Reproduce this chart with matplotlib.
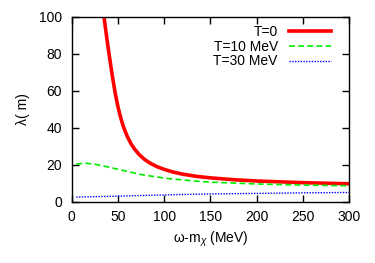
import matplotlib
matplotlib.use("Agg")
import matplotlib.pyplot as plt

plt.rcParams['font.family'] = ['Liberation Sans', 'DejaVu Sans']
plt.rcParams['mathtext.fontset'] = 'custom'
plt.rcParams['mathtext.rm'] = 'Liberation Sans'
plt.rcParams['mathtext.it'] = 'Liberation Sans:italic'

# Data
red_x = [34, 35, 38, 41, 44, 47, 50, 53, 56, 60, 64, 68, 73, 79, 85, 92, 100,
         110, 120, 135, 150, 175, 200, 250, 300]
red_y = [104, 100, 88.5, 78, 68, 59, 51.5, 45.5, 40.5, 35.5, 31.5, 28.5, 25.5,
         22.8, 20.8, 19.0, 17.5, 16.0, 14.9, 13.7, 12.9, 11.9, 11.2, 10.3, 9.7]

green_x = [5, 15, 25, 41, 60, 78, 103, 132, 150, 200, 250, 300]
green_y = [20.4, 20.8, 20.3, 18.6, 16.4, 14.4, 12.6, 11.2, 10.6, 9.6, 9.0, 8.6]

blue_x = [5, 50, 100, 150, 200, 250, 300]
blue_y = [2.5, 3.0, 3.7, 4.2, 4.5, 4.8, 5.0]

labels = ['T=0', 'T=10 MeV', 'T=30 MeV']
xticks = [0, 50, 100, 150, 200, 250, 300]
yticks = [0, 20, 40, 60, 80, 100]

fig = plt.figure(figsize=(3.75, 2.63), dpi=100)
ax = fig.add_axes([0.191, 0.233, 0.740, 0.7035])

ax.plot(red_x, red_y, color='#ff0000', lw=2.6, label=labels[0])
ax.plot(green_x, green_y, color='#00ee00', lw=1.2, dashes=(3.5, 2.0), label=labels[1])
ax.plot(blue_x, blue_y, color='#0000ff', lw=1.0, dashes=(1.0, 1.0), label=labels[2])

ax.set_xlim(0, 300)
ax.set_ylim(0, 100)
ax.set_xticks(xticks)
ax.set_yticks(yticks)
ax.tick_params(direction='in', length=5, width=1.0, top=True, right=True,
               labelsize=10)
ax.tick_params(axis='y', pad=7)
ax.tick_params(axis='x', pad=6)
for s in ax.spines.values():
    s.set_linewidth(1.0)

ax.set_xlabel(r'ω-m$_\chi$ (MeV)', fontsize=10, labelpad=4)
ax.set_ylabel('λ( m)', fontsize=10, labelpad=6)

leg = ax.legend(loc='upper right', frameon=False, markerfirst=False, fontsize=10,
                handlelength=3.0, handletextpad=0.8, labelspacing=0.05,
                borderaxespad=0.0, borderpad=0.0, bbox_to_anchor=(0.933, 0.955))

fig.savefig('out.png', dpi=100)
